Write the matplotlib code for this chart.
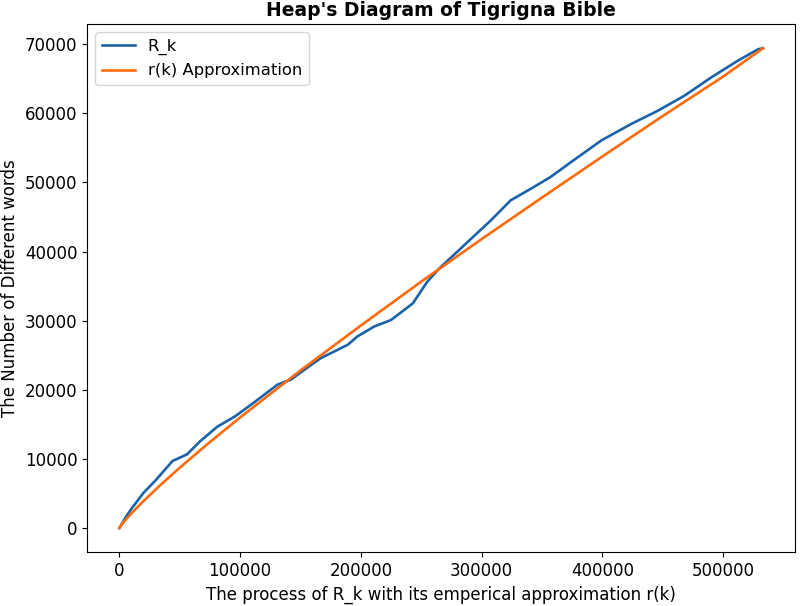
import matplotlib
matplotlib.use("Agg")
import matplotlib.pyplot as plt

# R_k (x = number of tokens processed)
k_tokens = [0, 5000, 10000, 20000, 30000, 44000, 56000, 67000, 81000, 96000,
            111000, 131000, 142000, 158000, 167000, 189000, 197000, 211000,
            225000, 243000, 255000, 265000, 285500, 307600, 324000, 341000,
            357000, 374000, 399000, 424000, 446000, 468000, 490000, 512000,
            529000, 533000]
r_k = [0, 1500, 2800, 5100, 6900, 9700, 10660, 12580, 14650, 16180,
       18100, 20750, 21470, 23500, 24600, 26500, 27700, 29150,
       30100, 32500, 35640, 37560, 40900, 44500, 47400, 49100,
       50770, 52930, 56050, 58460, 60370, 62540, 65170, 67580,
       69260, 69400]

# r(k) approximation
approx_k = [0, 2000, 5000, 10000, 20000, 35000, 50000, 75000, 100000, 150000,
            200000, 250000, 300000, 350000, 400000, 450000, 500000, 533000]
approx_r = [0, 520, 1170, 2140, 3920, 6390, 8730, 12450, 16000, 22800,
            29300, 35650, 41800, 47800, 53750, 59600, 65300, 69400]

fig = plt.figure(figsize=(8, 6.06), dpi=100)
ax = fig.add_axes([0.109, 0.089, 0.885, 0.871])

ax.plot(k_tokens, r_k, color='#1a62aa', lw=1.9, label='R_k')
ax.plot(approx_k, approx_r, color='#ff6a0a', lw=1.9, label='r(k) Approximation')

ax.set_title("Heap's Diagram of Tigrigna Bible", fontsize=13.5, fontweight='bold')
ax.set_xlabel("The process of R_k with its emperical approximation r(k)", fontsize=12)
ax.set_ylabel("The Number of Different words", fontsize=12)
ax.tick_params(labelsize=12)
ax.set_yticks(range(0, 70001, 10000))
ax.set_xticks(range(0, 500001, 100000))
ax.legend(loc='upper left', fontsize=11.8)

fig.savefig("out.png", dpi=100)
